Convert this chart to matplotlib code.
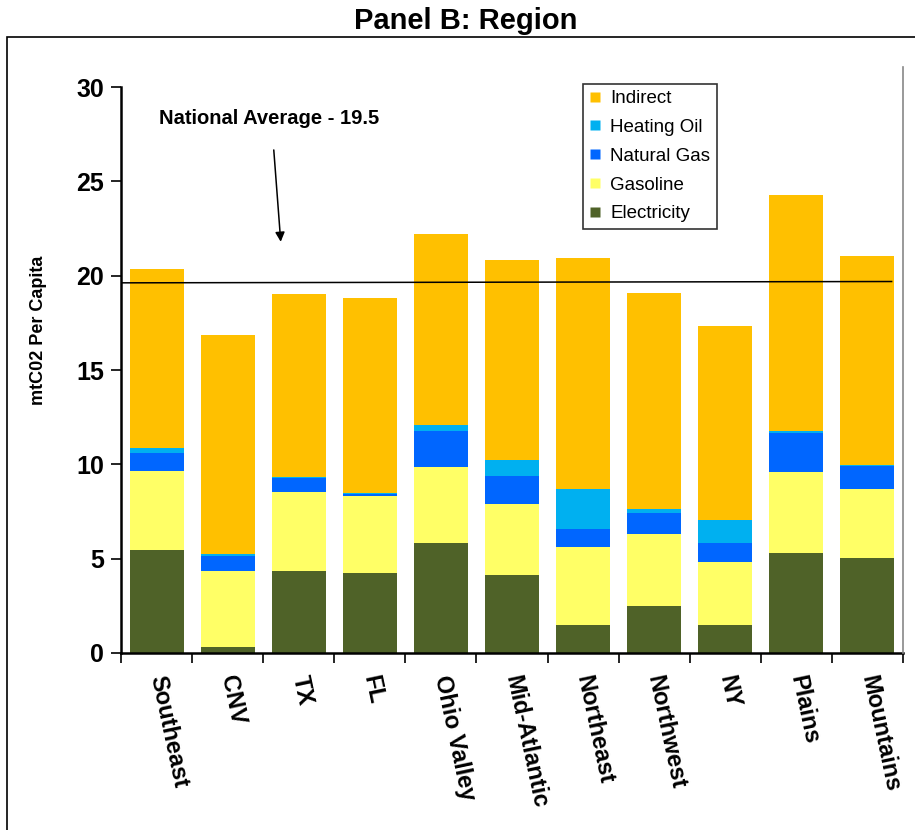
import matplotlib
matplotlib.use("Agg")
import matplotlib.pyplot as plt
from matplotlib.lines import Line2D
from matplotlib.patches import Rectangle
import numpy as np

plt.rcParams["font.family"] = ["Liberation Sans", "DejaVu Sans"]

regions = ["Southeast", "CNV", "TX", "FL", "Ohio Valley", "Mid-Atlantic",
           "Northeast", "Northwest", "NY", "Plains", "Mountains"]

electricity = [5.44, 0.31, 4.33, 4.26, 5.81, 4.12, 1.51, 2.50, 1.51, 5.32, 5.03]
gasoline = [4.23, 4.02, 4.23, 4.07, 4.07, 3.79, 4.10, 3.80, 3.33, 4.29, 3.67]
natural_gas = [0.91, 0.83, 0.70, 0.09, 1.87, 1.46, 0.97, 1.11, 0.97, 2.03, 1.20]
heating_oil = [0.27, 0.07, 0.05, 0.07, 0.31, 0.86, 2.10, 0.21, 1.25, 0.14, 0.05]
indirect = [9.48, 11.61, 9.72, 10.32, 10.13, 10.61, 12.24, 11.47, 10.27, 12.52, 11.08]

# national average reference line (slightly tilted in the original)
avg_x = [-0.49, 10.34]
avg_y = [19.62, 19.69]

series = [
    ("Electricity", electricity, "#4F6228"),
    ("Gasoline", gasoline, "#FFFF66"),
    ("Natural Gas", natural_gas, "#0066FF"),
    ("Heating Oil", heating_oil, "#00B0F0"),
    ("Indirect", indirect, "#FFC000"),
]

fig = plt.figure(figsize=(9.15, 8.30), dpi=100)
ax = fig.add_axes([121 / 915, 1 - 653 / 830, 782 / 915, 566 / 830])

x = np.arange(len(regions))
bottom = np.zeros(len(regions))
for name, vals, color in series:
    ax.bar(x, vals, width=0.76, bottom=bottom, color=color,
           edgecolor="none", label=name, zorder=2)
    bottom += np.array(vals)

ax.plot(avg_x, avg_y, color="black", lw=1.1, zorder=3)

ax.set_xlim(-0.5, len(regions) - 0.5)
ax.set_ylim(0, 30)
ax.set_yticks([0, 5, 10, 15, 20, 25, 30])
ax.tick_params(axis="y", direction="out", length=7, width=1.2,
               labelsize=18, pad=5)
for t in ax.get_yticklabels():
    t.set_fontweight("bold")

# category ticks sit between bars, labels at bar centres
ax.set_xticks(np.arange(-0.5, len(regions)), minor=True)
ax.set_xticks(x)
ax.tick_params(axis="x", which="minor", direction="out", length=7, width=1.2)
ax.tick_params(axis="x", which="major", length=0, pad=16)
ax.set_xticklabels(regions, rotation=-78, rotation_mode="anchor",
                   ha="left", va="center", fontsize=17, fontweight="bold")

ax.spines["top"].set_visible(False)
ax.spines["right"].set_visible(False)
ax.spines["left"].set_linewidth(1.8)
ax.spines["bottom"].set_linewidth(1.8)

ax.set_ylabel("mtC02 Per Capita", fontsize=13, fontweight="bold")
ax.yaxis.set_label_coords(-0.095, 0.57)

ax.text(0.03, 28.34, "National Average - 19.5", fontsize=14.5,
        fontweight="bold", ha="left", va="center")
ax.annotate("", xy=(1.75, 21.65), xytext=(1.646, 26.81),
            arrowprops=dict(arrowstyle="-|>", color="black", lw=1.1,
                            mutation_scale=14))

handles = [Line2D([], [], marker="s", ls="none", markersize=6.5,
                  markerfacecolor=c, markeredgecolor="none")
           for _, _, c in series][::-1]
labels = [n for n, _, _ in series][::-1]
leg = ax.legend(handles, labels, loc="upper left",
                bbox_to_anchor=(462 / 782, 1.006), fontsize=13.5,
                frameon=True, fancybox=False, edgecolor="black",
                handlelength=0.6, handletextpad=0.5, labelspacing=0.62,
                borderpad=0.35, borderaxespad=0)
leg.get_frame().set_linewidth(1.2)

# grey right edge of the plot area and the outer chart frame
fig.add_artist(Line2D([903 / 915, 903 / 915], [1 - 653 / 830, 1 - 67 / 830],
                      color="#888888", lw=1.2))
fig.add_artist(Rectangle((7 / 915, -0.1), 1.2, 1 - 37 / 830 + 0.1,
                         transform=fig.transFigure, fill=False,
                         edgecolor="black", lw=1.2))

fig.text(466 / 915, 1 - 21 / 830, "Panel B: Region", fontsize=21,
         fontweight="bold", ha="center", va="center")

fig.savefig("out.png", dpi=100)
